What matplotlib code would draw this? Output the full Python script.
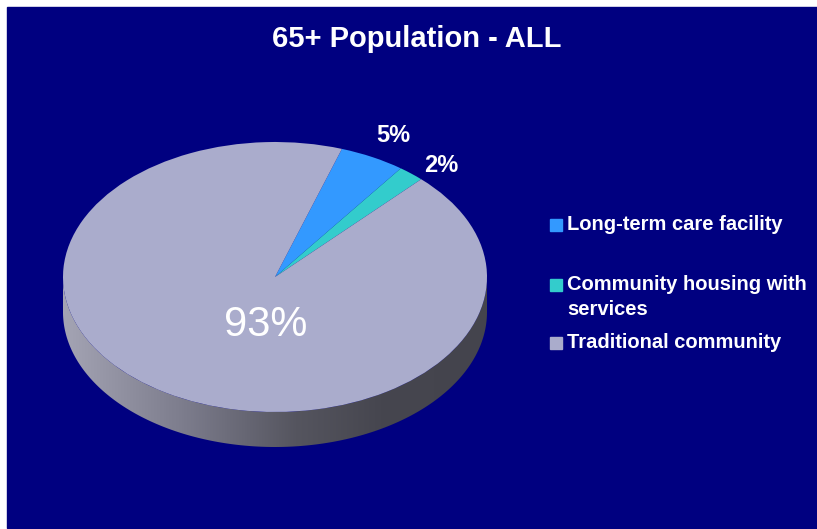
import numpy as np
import matplotlib.pyplot as plt
from matplotlib.patches import Rectangle, Polygon
from matplotlib.colors import LinearSegmentedColormap
from matplotlib.transforms import Affine2D

plt.rcParams['font.family'] = ['Liberation Sans', 'DejaVu Sans']

# shares of the 65+ population by living arrangement
labels = ['Long-term care facility', 'Community housing with\nservices', 'Traditional community']
shares = [5, 2, 93]
colors = ['#3399FF', '#33CCCC', '#AAACCC']

W, H = 817, 529
fig = plt.figure(figsize=(W / 100, H / 100), dpi=100)
fig.patch.set_facecolor('white')
ax = fig.add_axes([0, 0, 1, 1])

# navy slide background
ax.add_patch(Rectangle((7, 1), 810, 521, color='#000080', zorder=0))

# pie geometry (pixel units, y up)
cx, cy = 275, H - 277
rx, ry = 212, 135
depth = 35
start = 71.6

# front rim of the tilted disc, shaded left to right
t = np.linspace(np.pi, 2 * np.pi, 300)
rim_top = np.column_stack([cx + rx * np.cos(t), cy + ry * np.sin(t)])
rim_bot = rim_top[::-1] - [0, depth]
rim = Polygon(np.vstack([rim_top, rim_bot]), closed=True, facecolor='none', edgecolor='none')
ax.add_patch(rim)
side_cmap = LinearSegmentedColormap.from_list(
    'side', [(0, '#a4a4b4'), (0.3, '#7a7a8a'), (0.55, '#55555f'), (0.75, '#46464f'), (1, '#44444d')])
grad = np.linspace(0, 1, 256).reshape(1, -1)
im = ax.imshow(grad, extent=[cx - rx, cx + rx, cy - ry - depth, cy], aspect='auto',
               cmap=side_cmap, zorder=1)
im.set_clip_path(rim)

# top face: regular pie squashed into an ellipse
wedges, _ = ax.pie(shares, colors=colors, radius=rx, startangle=start, counterclock=False,
                   center=(0, 0), wedgeprops=dict(linewidth=0))
squash = Affine2D().scale(1, ry / rx).translate(cx, cy) + ax.transData
for w in wedges:
    w.set_transform(squash)
    w.set_zorder(2)

# percentage labels
pct_pos = [(393, 135), (441, 165), (266, 325)]
pct_style = [dict(fontsize=17, fontweight='bold'), dict(fontsize=17, fontweight='bold'),
             dict(fontsize=30)]
for v, (px, py), st in zip(shares, pct_pos, pct_style):
    ax.text(px, H - py, f'{v}%', color='white', ha='center', va='center', zorder=3, **st)

# legend
leg_y = [225, 285, 343]
for lab, c, y in zip(labels, colors, leg_y):
    ax.add_patch(Rectangle((550, H - y - 6), 12, 12, color=c, zorder=3))
    ax.text(567, H - y + 10, lab, color='white', fontsize=14.5, fontweight='bold',
            ha='left', va='top', linespacing=1.4, zorder=3)

ax.text(W / 2 + 8, H - 39, '65+ Population - ALL', color='white', fontsize=21,
        fontweight='bold', ha='center', va='center', zorder=3)

ax.set_xlim(0, W)
ax.set_ylim(0, H)
ax.set_aspect('auto')
ax.axis('off')

fig.savefig('out.png', dpi=100, facecolor='white')
